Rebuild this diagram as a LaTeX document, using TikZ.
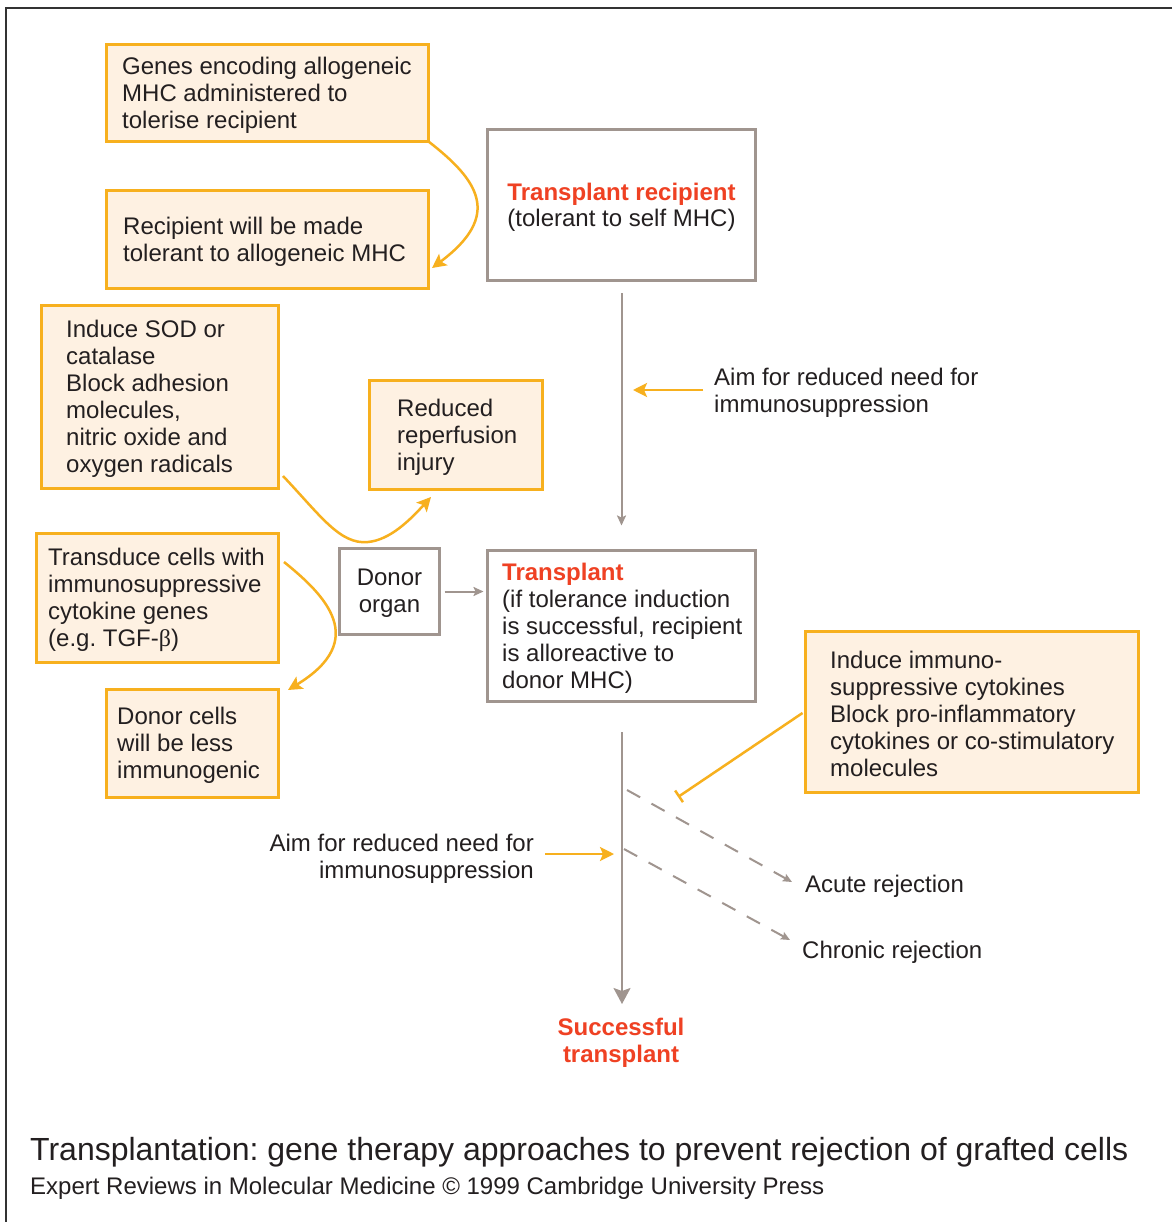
\documentclass[tikz,border=0pt]{standalone}
\usepackage{fontspec}
\setmainfont{Liberation Sans}
\newfontfamily\serifgreek{Liberation Serif}
\usetikzlibrary{arrows.meta}
\definecolor{orng}{HTML}{F7B01E}
\definecolor{ofill}{HTML}{FEF1E2}
\definecolor{gline}{HTML}{A0958F}
\definecolor{redt}{HTML}{EF4123}
\definecolor{ink}{HTML}{231F20}
\definecolor{frame}{HTML}{333333}
\frenchspacing
\begin{document}
\begin{tikzpicture}[x=1pt,y=-1pt,
  every node/.style={font=\fontsize{24}{27}\selectfont\frenchspacing, text=ink},
  obox/.style={draw=orng, fill=ofill, line width=2.5pt, anchor=north west, inner sep=0pt, outer sep=0pt},
  gbox/.style={draw=gline, fill=white, line width=2.5pt, anchor=north west, inner sep=0pt, outer sep=0pt, align=center},
  txt/.style={align=left, inner sep=0pt, anchor=west, yshift=-2pt},
  ctxt/.style={align=center, inner sep=0pt, yshift=-2pt},
  oline/.style={draw=orng, line width=2.5pt},
  oarrow/.style={oline, -{Stealth[length=14pt,width=14pt,inset=3pt]}},
  obar/.style={oline, -{Bar[width=14pt,line width=2.5pt]}},
  gline2/.style={draw=gline, line width=2pt},
  gsmall/.style={gline2, -{Stealth[length=10pt,width=9pt,inset=2pt]}},
  gbig/.style={gline2, -{Stealth[length=16pt,width=17pt,inset=3pt]}},
  gdash/.style={gline2, dash pattern=on 15pt off 13pt, -{Stealth[length=9pt,width=8pt,inset=1.5pt]}},
  redb/.style={text=redt, font=\fontsize{24}{27}\selectfont\bfseries}
]
\useasboundingbox (0,0) rectangle (1172,1222);
\fill[white] (0,0) rectangle (1172,1222);
\draw[frame, line width=2.5pt] (1172,8) -- (6,8) -- (6,1222);

% orange boxes
\node[obox, minimum width=322pt, minimum height=97pt] (b1) at (106.5,44.5) {};
\node[txt] (b1t) at ([xshift=15.5pt]b1.west) {Genes encoding allogeneic\\MHC administered to\\tolerise recipient};
\node[obox, minimum width=322pt, minimum height=98pt] (b2) at (106.5,190.5) {};
\node[txt] (b2t) at ([xshift=16.5pt]b2.west) {Recipient will be made\\tolerant to allogeneic MHC};
\node[obox, minimum width=237pt, minimum height=183pt] (b3) at (41.5,305.5) {};
\node[txt] (b3t) at ([xshift=24.5pt]b3.west) {Induce SOD or\\catalase\\Block adhesion\\molecules,\\nitric oxide and\\oxygen radicals};
\node[obox, minimum width=173pt, minimum height=109pt] (b4) at (369.5,380.5) {};
\node[txt] (b4t) at ([xshift=27.5pt]b4.west) {Reduced\\reperfusion\\injury};
\node[obox, minimum width=242pt, minimum height=129pt] (b5) at (36.5,533.5) {};
\node[txt] (b5t) at ([xshift=11.5pt]b5.west) {Transduce cells with\\immunosuppressive\\cytokine genes\\(e.g.\ TGF-{\serifgreek β})};
\node[obox, minimum width=172pt, minimum height=108pt] (b6) at (106.5,689.5) {};
\node[txt] (b6t) at ([xshift=10.5pt]b6.west) {Donor cells\\will be less\\immunogenic};
\node[obox, minimum width=333pt, minimum height=161pt] (b7) at (805.5,631.5) {};
\node[txt] (b7t) at ([xshift=24.5pt]b7.west) {Induce immuno-\\suppressive cytokines\\Block pro-inflammatory\\cytokines or co-stimulatory\\molecules};

% gray boxes
\node[gbox, minimum width=268pt, minimum height=151pt] (rec) at (487.5,129.5) {};
\node[ctxt] (rect) at (rec.center) {{\color{redt}\bfseries Transplant recipient}\\[-1pt](tolerant to self MHC)};
\node[gbox, minimum width=100pt, minimum height=86pt] (donor) at (339.5,548.5) {};
\node[ctxt] (donort) at (donor.center) {Donor\\organ};
\node[gbox, minimum width=268pt, minimum height=151pt] (tp) at (487.5,550.5) {};
\node[txt] (tpt) at ([xshift=14.5pt]tp.west) {{\color{redt}\bfseries Transplant}\\(if tolerance induction\\is successful, recipient\\is alloreactive to\\donor MHC)};

% free labels
\node[txt] (aim1) at (714,390.5) {Aim for reduced need for\\immunosuppression};
\node[align=right, inner sep=0pt, anchor=east, yshift=-2pt] (aim2) at (534,857) {Aim for reduced need for\\immunosuppression};
\node[txt] (acute) at (805,884) {Acute rejection};
\node[txt] (chronic) at (802,950) {Chronic rejection};
\node[ctxt, redb] (succ) at (621,1040.5) {Successful\\transplant};
\node[anchor=west, inner sep=0pt, yshift=-2.5pt, font=\fontsize{32}{36}\selectfont] (title) at (30,1150) {Transplantation: gene therapy approaches to prevent rejection of grafted cells};
\node[txt] (cap) at (30,1186) {Expert Reviews in Molecular Medicine © 1999 Cambridge University Press};

% coordinates
\coordinate (aim1tip) at (633,390);
\coordinate (m1) at (622,732);
\coordinate (m2) at (622,1004);
\coordinate (d1s) at (627,790);
\coordinate (d1e) at (792,882);
\coordinate (d2s) at (624,849);
\coordinate (d2e) at (790,940);
\coordinate (barend) at (678,797);
\coordinate (a2s) at (545,854);
\coordinate (a2e) at (614,854);
\coordinate (c1e) at (432,268);
\coordinate (c2s) at (283,476);
\coordinate (c2m) at (368,542);
\coordinate (c2e) at (431,497);
\coordinate (c3s) at (284,562);
\coordinate (c3e) at (288,690);

% gray connectors
\draw[gsmall, shorten <=13pt, shorten >=25pt] (rec.south) -- (tp.north);
\draw[gsmall, shorten <=5pt, shorten >=4pt] (donor.east) -- (donor.east -| tp.west);
\draw[gbig] (m1) -- (m2);
\draw[gdash] (d1s) -- (d1e);
\draw[gdash] (d2s) -- (d2e);

% orange connectors
\draw[oarrow] ([xshift=-11pt]aim1.west |- aim1tip) -- (aim1tip);
\draw[oarrow] (a2s) -- (a2e);
\draw[obar] ([xshift=-3pt,yshift=-1pt]b7.west) -- (barend);
\draw[oarrow] (b1.south east) .. controls (478,180) and (503,215) .. (c1e);
\draw[oarrow] (c2s) .. controls (320,515) and (340,545) .. (c2m) .. controls (390,540) and (410,520) .. (c2e);
\draw[oarrow] (c3s) .. controls (325,595) and (370,640) .. (c3e);
\end{tikzpicture}
\end{document}
